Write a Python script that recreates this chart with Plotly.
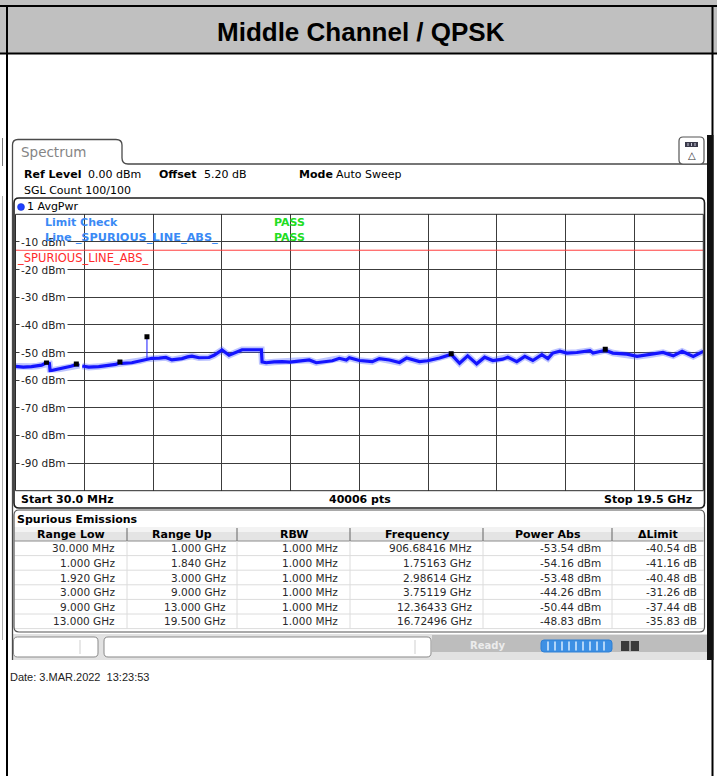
import plotly.graph_objects as go

W, H = 717, 776
def X(px): return px / W
def Y(py): return 1 - py / H

F = "DejaVu Sans"
FT = "Liberation Sans"

# ---------------- data ----------------
f_start_ghz = 0.03
f_stop_ghz = 19.5
limit_level_dbm = -13.0
y_tick_values = [-10, -20, -30, -40, -50, -60, -70, -80, -90]
y_tick_labels = ["-10 dBm", "-20 dBm", "-30 dBm", "-40 dBm", "-50 dBm",
                 "-60 dBm", "-70 dBm", "-80 dBm", "-90 dBm"]

trace_freq_ghz = [0.03, 0.25, 0.48, 0.65, 0.77, 0.907, 0.99, 1.01, 1.05, 1.25, 1.45, 1.6,
                  1.752, 1.84, None, 1.92, 2.1, 2.386, 2.6, 2.868, 2.986, 3.05, 3.322,
                  3.55, 3.72, 3.89, 4.1, 4.287, 4.457, 4.741, 4.9, 5.025, 5.224, 5.507,
                  5.65, 5.791, 5.876, 6.075, 6.274, 6.444, 6.728, 6.926, 6.99, 7.01, 7.125,
                  7.35, 7.579, 7.8, 8.062, 8.345, 8.544, 8.8, 9.0, 9.197, 9.395, 9.48,
                  9.764, 10.13, 10.33, 10.616, 10.9, 11.1, 11.467, 11.694, 12.035, 12.364,
                  12.6, 12.83, 13.085, 13.31, 13.54, 13.82, 13.965, 14.22, 14.447, 14.674,
                  14.93, 15.1, 15.24, 15.44, 15.64, 15.92, 16.29, 16.38, 16.725, 16.94,
                  17.34, 17.625, 17.99, 18.36, 18.65, 18.9, 19.215, 19.5]
trace_level_dbm = [-55.0, -55.3, -55.1, -54.9, -54.6, -53.7, -54.0, -56.6, -56.5, -56.0, -55.5,
                   -55.0, -54.4, -54.6, None, -54.9, -55.3, -55.1, -54.8, -54.3, -53.7, -53.9,
                   -53.7, -53.0, -52.4, -52.1, -52.0, -51.8, -52.7, -52.2, -51.6, -51.3,
                   -51.9, -51.8, -51.0, -49.8, -49.1, -51.0, -49.8, -49.0, -49.0, -48.8,
                   -49.0, -53.4, -53.7, -53.4, -53.3, -53.5, -53.2, -52.7, -53.7, -53.2,
                   -53.0, -52.1, -52.7, -51.9, -52.9, -53.3, -52.2, -52.7, -53.6, -52.0,
                   -53.3, -53.0, -52.0, -50.7, -53.9, -51.2, -54.1, -51.7, -52.9, -52.4,
                   -51.7, -53.3, -51.4, -52.9, -50.8, -52.2, -50.2, -49.5, -50.2, -50.0,
                   -49.3, -50.2, -49.2, -50.2, -50.6, -51.4, -50.8, -50.0, -51.2, -49.6,
                   -51.4, -49.6]
spike_freq_ghz = 3.75119
spike_base_dbm = -52.4

table_headers = ["Range Low", "Range Up", "RBW", "Frequency", "Power Abs", "\u0394Limit"]
range_low = ["30.000 MHz", "1.000 GHz", "1.920 GHz", "3.000 GHz", "9.000 GHz", "13.000 GHz"]
range_up = ["1.000 GHz", "1.840 GHz", "3.000 GHz", "9.000 GHz", "13.000 GHz", "19.500 GHz"]
rbw = ["1.000 MHz", "1.000 MHz", "1.000 MHz", "1.000 MHz", "1.000 MHz", "1.000 MHz"]
peak_freq_labels = ["906.68416 MHz", "1.75163 GHz", "2.98614 GHz", "3.75119 GHz",
                    "12.36433 GHz", "16.72496 GHz"]
peak_freq_ghz = [0.90668416, 1.75163, 2.98614, 3.75119, 12.36433, 16.72496]
peak_power_dbm = [-53.54, -54.16, -53.48, -44.26, -50.44, -48.83]
delta_limit_db = [-40.54, -41.16, -40.48, -31.26, -37.44, -35.83]

# ---------------- figure ----------------
fig = go.Figure()

fig.add_trace(go.Scatter(x=[f_start_ghz, f_stop_ghz], y=[limit_level_dbm, limit_level_dbm],
                         mode="lines", line=dict(color="#ff3c3c", width=1),
                         hoverinfo="skip", showlegend=False))
fig.add_trace(go.Scatter(x=trace_freq_ghz, y=trace_level_dbm, mode="lines",
                         line=dict(color="rgba(70,90,255,0.35)", width=6.5),
                         connectgaps=False, hoverinfo="skip", showlegend=False))
fig.add_trace(go.Scatter(x=trace_freq_ghz, y=trace_level_dbm, mode="lines",
                         line=dict(color="#1414ff", width=3.2), connectgaps=False,
                         hoverinfo="skip", showlegend=False))
fig.add_trace(go.Scatter(x=[spike_freq_ghz, spike_freq_ghz],
                         y=[spike_base_dbm, peak_power_dbm[3]], mode="lines",
                         line=dict(color="#1a1aff", width=1), hoverinfo="skip",
                         showlegend=False))
fig.add_trace(go.Scatter(x=peak_freq_ghz, y=peak_power_dbm, mode="markers",
                         marker=dict(symbol="square", size=5, color="black"),
                         hoverinfo="skip", showlegend=False))

fig.update_layout(
    width=W, height=H, margin=dict(l=0, r=0, t=0, b=0),
    paper_bgcolor="white", plot_bgcolor="white", showlegend=False,
    xaxis=dict(domain=[X(15.5), X(703.3)], range=[f_start_ghz, f_stop_ghz],
               tick0=f_start_ghz, dtick=(f_stop_ghz - f_start_ghz) / 10,
               showgrid=True, gridcolor="#3c3c3c", gridwidth=1, showticklabels=False,
               zeroline=False, ticks="", showline=False, fixedrange=True),
    yaxis=dict(domain=[Y(490.7), Y(214.3)], range=[-100, 0], dtick=10,
               showgrid=True, gridcolor="#3c3c3c", gridwidth=1, showticklabels=False,
               zeroline=False, ticks="", showline=False, fixedrange=True),
)

shapes = []
def rect(x0, y0, x1, y1, fill=None, line=None, lw=1, layer="below"):
    shapes.append(dict(type="rect", xref="paper", yref="paper", x0=X(x0), x1=X(x1),
                       y0=Y(y1), y1=Y(y0), fillcolor=fill or "rgba(0,0,0,0)",
                       line=dict(color=line or "rgba(0,0,0,0)", width=lw if line else 0),
                       layer=layer))
def hline(x0, x1, y, color, lw=1, layer="above"):
    shapes.append(dict(type="line", xref="paper", yref="paper", x0=X(x0), x1=X(x1),
                       y0=Y(y), y1=Y(y), line=dict(color=color, width=lw), layer=layer))
def vline(x, y0, y1, color, lw=1, layer="above"):
    shapes.append(dict(type="line", xref="paper", yref="paper", x0=X(x), x1=X(x),
                       y0=Y(y0), y1=Y(y1), line=dict(color=color, width=lw), layer=layer))
def rrect(x0, y0, x1, y1, r, line, lw=1, fill=None, layer="above"):
    p = ("M %f,%f L %f,%f Q %f,%f %f,%f L %f,%f Q %f,%f %f,%f L %f,%f Q %f,%f %f,%f "
         "L %f,%f Q %f,%f %f,%f Z") % (
        X(x0 + r), Y(y0), X(x1 - r), Y(y0), X(x1), Y(y0), X(x1), Y(y0 + r),
        X(x1), Y(y1 - r), X(x1), Y(y1), X(x1 - r), Y(y1),
        X(x0 + r), Y(y1), X(x0), Y(y1), X(x0), Y(y1 - r),
        X(x0), Y(y0 + r), X(x0), Y(y0), X(x0 + r), Y(y0))
    shapes.append(dict(type="path", xref="paper", yref="paper", path=p,
                       line=dict(color=line, width=lw),
                       fillcolor=fill or "rgba(0,0,0,0)", layer=layer))

# page frame / title band
rect(0, 0, 717, 54, fill="#c0c0c0")
hline(0, 717, 6, "black", 2)
hline(0, 717, 53.5, "black", 2)
vline(7, 5, 776, "black", 2)
vline(712.5, 5, 776, "black", 2)

# left neighbour fragments
vline(2.5, 138, 166, "#777777", 1)
vline(2.5, 196, 640, "#b0b0b0", 1)

# window chrome: tab + line
tab = ("M %f,%f L %f,%f Q %f,%f %f,%f L %f,%f Q %f,%f %f,%f L %f,%f Q %f,%f %f,%f L %f,%f") % (
    X(12.5), Y(660), X(12.5), Y(145), X(12.5), Y(139.5), X(18), Y(139.5),
    X(116), Y(139.5), X(122), Y(139.5), X(122), Y(145),
    X(122), Y(158), X(122), Y(164), X(128), Y(164), X(707), Y(164))
shapes.append(dict(type="path", xref="paper", yref="paper", path=tab,
                   line=dict(color="#4a4a4a", width=1.3), layer="above"))
rect(707, 135, 713.5, 660, fill="#111111", layer="above")
rrect(679, 137, 704, 164, 4, "#555555", 1.2, fill="white")
rect(685, 142, 698, 147, fill="#3a3a4a", layer="above")
for bx in (688, 691.5, 695):
    vline(bx, 143, 146, "#c8c8d8", 1)

# diagram frame and plot border
rrect(14, 198, 704.5, 508, 5, "#1e1e1e", 1.6)
shapes.append(dict(type="rect", xref="x domain", yref="y domain", x0=0, x1=1, y0=0, y1=1,
                   line=dict(color="#2a2a2a", width=1), layer="above"))
shapes.append(dict(type="circle", xref="paper", yref="paper", x0=X(17.5), x1=X(24.5),
                   y0=Y(210.5), y1=Y(203.5), fillcolor="#1f3fff",
                   line=dict(color="#1030c0", width=0.5), layer="above"))

# table frame, header band and grid
col_edges = [14.5, 127, 237, 350, 483, 612, 703.5]
head_top, head_bot = 527, 541
row_h = 14.6
n_rows = len(range_low)
rect(14.5, head_top, 703.5, head_bot, fill="#e4e4e4", layer="above")
rect(14.5, head_top, 703.5, head_top + 5, fill="#f3f3f3", layer="above")
hline(14.5, 703.5, head_bot, "#8c8c8c", 1)
for i in range(1, n_rows + 1):
    hline(14.5, 703.5, head_bot + i * row_h, "#dcdcdc", 1)
for e in col_edges[1:-1]:
    vline(e, head_top + 1, head_bot, "#7a7a7a", 1.2)
    vline(e, head_bot, head_bot + n_rows * row_h, "#dcdcdc", 1)
rrect(14, 510, 704.5, 632, 5, "#555555", 1.2)

# status bar
rect(12.5, 634, 707, 660, fill="#e2e2e2")
rect(432, 635, 707, 652, fill="#bdbdbd")
rrect(13.5, 637, 98, 657, 4, "#8a8a8a", 1, fill="white")
vline(80, 640, 654, "#cfcfcf", 1)
rrect(104, 637, 431, 657, 4, "#8a8a8a", 1, fill="white")
vline(415, 640, 654, "#cfcfcf", 1)
rrect(541, 640, 612, 652, 3, "#2f7fd4", 1, fill="#3d90e4")
for sx in range(548, 608, 7):
    vline(sx, 641.5, 650.5, "#d8ecff", 1.5)
rect(621, 641, 639, 651, fill="#3a3a3a", layer="above")
vline(630, 641, 651, "#bdbdbd", 1.5)

fig.update_layout(shapes=shapes)

ann = []
def txt(s, x, y, size=11, color="black", bold=False, anchor="left", family=F, bg=None):
    ann.append(dict(text="<b>%s</b>" % s if bold else s, x=X(x), xref="paper",
                    y=Y(y), yref="paper", xanchor=anchor, yanchor="middle",
                    showarrow=False, font=dict(family=family, size=size, color=color),
                    bgcolor=bg or "rgba(0,0,0,0)", borderpad=0))

txt("Middle Channel / QPSK", 361, 32, size=26, bold=True, anchor="center", family=FT)
txt("Spectrum", 20, 152.5, size=13.5, color="#858585")
txt("\u25b3", 691.5, 156, size=10, color="#333333", anchor="center")
txt("Ref Level", 23, 175, bold=True)
txt("0.00 dBm", 87, 175)
txt("Offset", 158, 175, bold=True)
txt("5.20 dB", 203, 175)
txt("Mode", 298, 175, bold=True)
txt("Auto Sweep", 335, 175)
txt("SGL Count 100/100", 23, 190)
txt("1 AvgPwr", 26, 207)

for v, lab in zip(y_tick_values, y_tick_labels):
    ann.append(dict(text=lab, x=X(19), xref="paper", y=v, yref="y", xanchor="left",
                    yanchor="middle", showarrow=False,
                    font=dict(family=F, size=10.5, color="#222222"),
                    bgcolor="white", borderpad=1))

txt("Limit Check", 44, 222.5, size=11, color="#3a8af5", bold=True)
txt("Line _SPURIOUS_LINE_ABS_", 44, 237.5, size=11.3, color="#3a8af5", bold=True)
txt("PASS", 273, 222.5, size=11, color="#22dd22", bold=True)
txt("PASS", 273, 237.5, size=11, color="#22dd22", bold=True)
txt("_SPURIOUS_LINE_ABS_", 15.5, 258.5, size=11.5, color="#ff2a2a")

txt("Start 30.0 MHz", 20, 499.5, bold=True)
txt("40006 pts", 360, 499.5, bold=True, anchor="center")
txt("Stop 19.5 GHz", 693, 499.5, bold=True, anchor="right")

txt("Spurious Emissions", 15.5, 519, bold=True)

# table text
for j, h in enumerate(table_headers):
    txt(h, (col_edges[j] + col_edges[j + 1]) / 2, (head_top + head_bot) / 2 + 0.5,
        bold=True, anchor="center")
columns = [range_low, range_up, rbw, peak_freq_labels,
           ["%.2f dBm" % p for p in peak_power_dbm],
           ["%.2f dB" % d for d in delta_limit_db]]
right_pad = [11, 10, 11, 10, 10, 5.5]
for j, col in enumerate(columns):
    for i, val in enumerate(col):
        txt(val, col_edges[j + 1] - right_pad[j], head_bot + (i + 0.5) * row_h,
            size=10.5, color="#2a2a2a", anchor="right")

txt("Ready", 487, 645, size=10, color="#ececec", bold=True, anchor="center")
txt("Date: 3.MAR.2022 \u00a013:23:53", 9, 677, size=11, color="#222222", family=FT)

fig.update_layout(annotations=ann)

fig.write_html("out.html", config={"displayModeBar": False},
               post_script="document.body.style.margin='0px';")
